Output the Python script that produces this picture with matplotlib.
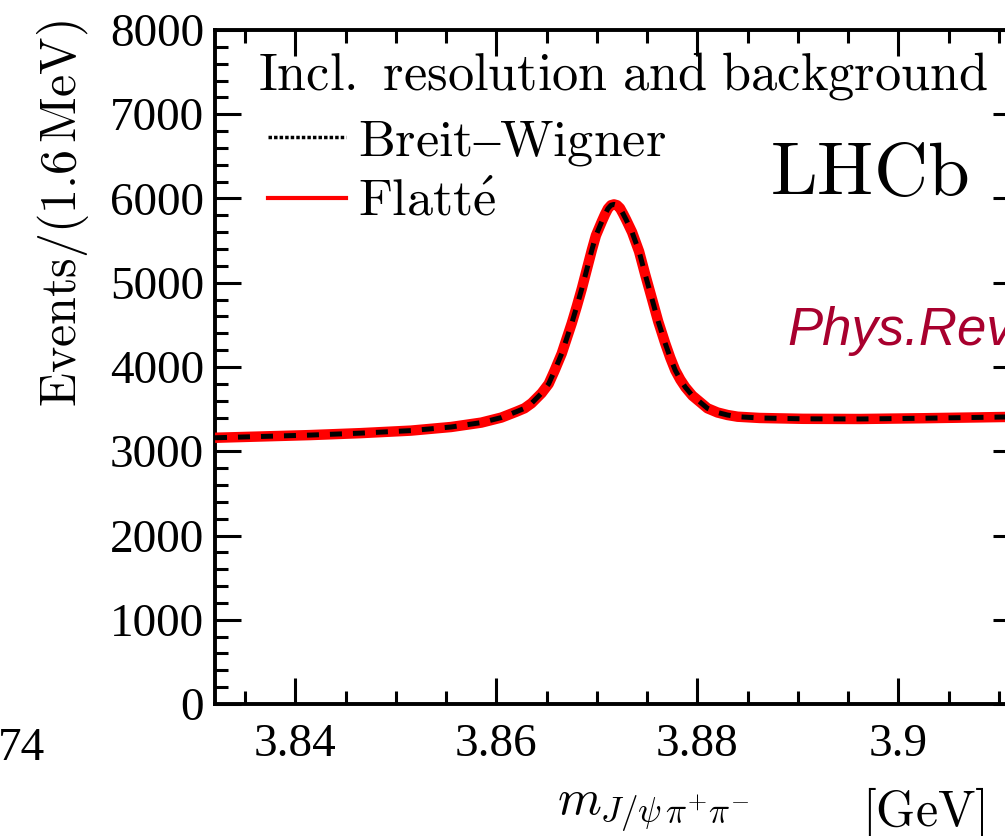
import matplotlib
matplotlib.use("Agg")
import matplotlib.pyplot as plt
from matplotlib.lines import Line2D
from matplotlib.ticker import MultipleLocator, FuncFormatter

plt.rcParams['mathtext.fontset'] = 'cm'

mass = [3.8320, 3.8365, 3.8415, 3.8465, 3.8515, 3.8555, 3.8585, 3.8605,
        3.8620, 3.8628, 3.8635, 3.8645, 3.8652, 3.8658, 3.8665, 3.8670,
        3.8675, 3.8680, 3.8685, 3.8690, 3.8695, 3.8699, 3.8705, 3.8708,
        3.8711, 3.8714, 3.8717, 3.8720, 3.8723, 3.8726, 3.8729, 3.8735,
        3.8742, 3.8748, 3.8755, 3.8761, 3.8768, 3.8773, 3.8778, 3.8783,
        3.8788, 3.8795, 3.8803, 3.8810, 3.8820, 3.8830, 3.8840, 3.8862,
        3.8905, 3.8962, 3.9025, 3.9124]
flatte = [3160, 3175, 3192, 3215, 3245, 3288, 3340, 3400,
          3470, 3510, 3570, 3690, 3800, 3960, 4160, 4340,
          4520, 4720, 4930, 5160, 5390, 5560, 5730, 5810,
          5880, 5920, 5930, 5920, 5885, 5820, 5750, 5600,
          5370, 5100, 4800, 4540, 4280, 4110, 3960, 3850,
          3760, 3660, 3580, 3510, 3460, 3430, 3410, 3395,
          3385, 3383, 3392, 3410]
breit_wigner = list(flatte)

x_range = (3.832, 3.912)
y_range = (0, 8000)
x_ticks = [3.84, 3.86, 3.88, 3.90]

W, H = 1005, 836
fig = plt.figure(figsize=(W / 100, H / 100), dpi=100)
ax = fig.add_axes([215 / W, (H - 704) / H, (1019 - 215) / W, (704 - 30) / H])

ax.plot(mass, flatte, color='red', lw=7.5, solid_capstyle='butt',
        solid_joinstyle='round', zorder=3)
ax.plot(mass, breit_wigner, color='black', lw=3.6, dashes=(2.4, 2.2), zorder=4)

ax.set_xlim(*x_range)
ax.set_ylim(*y_range)
ax.set_xticks(x_ticks)
ax.xaxis.set_minor_locator(MultipleLocator(0.005))
ax.yaxis.set_major_locator(MultipleLocator(1000))
ax.yaxis.set_minor_locator(MultipleLocator(200))
ax.xaxis.set_major_formatter(FuncFormatter(lambda v, p: f"{v:g}"))

for s in ax.spines.values():
    s.set_linewidth(2.8)
ax.tick_params(which='both', direction='in', top=True, right=True, width=2.2,
               labelsize=34, labelfontfamily='Liberation Serif')
ax.tick_params(which='major', length=19)
ax.tick_params(which='minor', length=9.5)
ax.tick_params(axis='x', pad=14)
ax.tick_params(axis='y', pad=8)

# axis titles
fig.text(63 / W, 1 - 20 / H, r'$\mathrm{Events/(1.6\,MeV)}$', rotation=90,
         ha='center', va='top', fontsize=36)
fig.text(557 / W, 1 - 815 / H, r'$m_{J/\psi\,\pi^{+}\pi^{-}}$', fontsize=36,
         ha='left', va='baseline')
fig.text(862 / W, 1 - 826 / H, r'$\mathrm{[GeV]}$', fontsize=36,
         ha='left', va='baseline')

# tick label of the neighbouring panel
fig.text(-2 / W, 1 - 760 / H, '74', fontsize=34, family='Liberation Serif',
         ha='left', va='baseline')

# legend: header line, then the two model curves
fig.text(258 / W, 1 - 90 / H, r'$\mathrm{Incl.\ resolution\ and\ background}$',
         fontsize=37.7, ha='left', va='baseline')
handles = [Line2D([], [], color='black', lw=2.5, ls=(0, (1, 0.6))),
           Line2D([], [], color='red', lw=3)]
ax.legend(handles, [r'$\mathrm{Breit}$–$\mathrm{Wigner}$',
                    r'$\mathrm{Flatt\acute{e}}$'],
          loc='upper left', bbox_to_anchor=(268 / W, 1 - 118 / H),
          bbox_transform=fig.transFigure, frameon=False,
          prop={'family': 'Liberation Serif', 'size': 37.5},
          handlelength=1.5, handletextpad=0.22, labelspacing=0.22,
          borderpad=0, borderaxespad=0)

fig.text(770 / W, 1 - 195 / H, r'$\mathrm{LHCb}$', fontsize=54,
         ha='left', va='baseline')
fig.text(787 / W, 1 - 345 / H, 'Phys.Rev', fontsize=38, color='#A8002E',
         family='Liberation Sans', style='italic', va='baseline')

fig.savefig('out.png', dpi=100)
